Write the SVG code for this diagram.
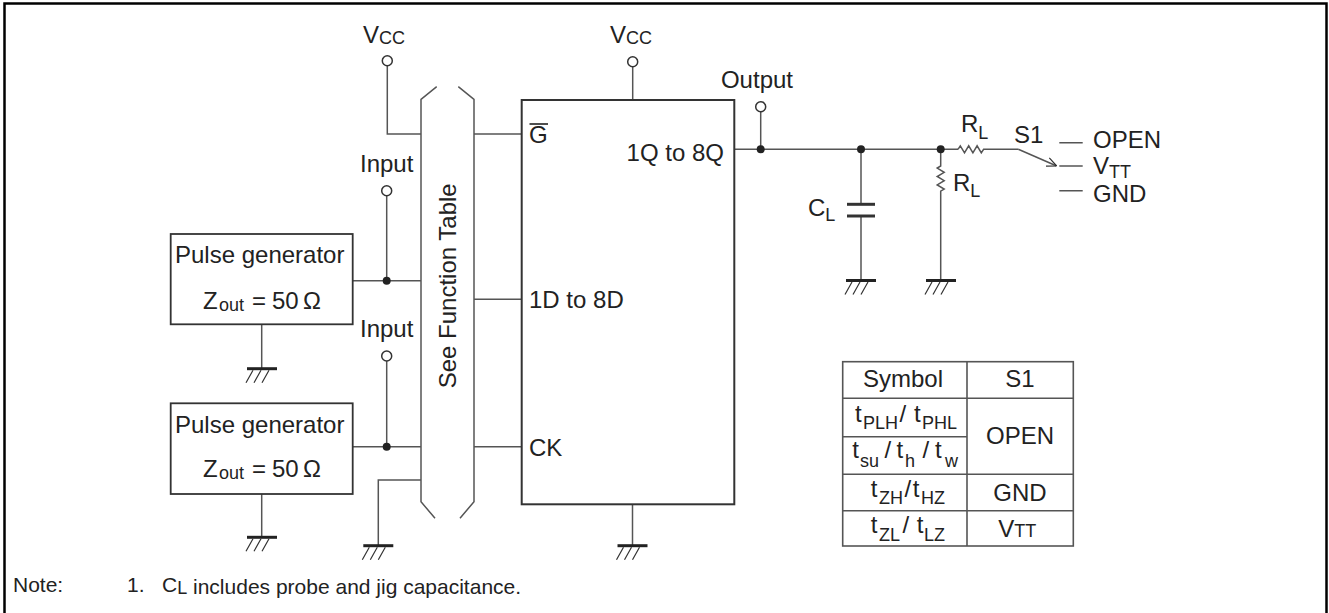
<svg xmlns="http://www.w3.org/2000/svg" xmlns:xlink="http://www.w3.org/1999/xlink" width="1329" height="613" viewBox="0 0 1329 613">
<style>
text{font-family:"Liberation Sans",Arial,sans-serif;font-size:24px;fill:#222}
.sub{font-size:18px}
.note{font-size:21px}
.w{stroke:#555;stroke-width:1.5;fill:none}
.t{stroke:#555;stroke-width:1.6;fill:none}
.dot{fill:#222}
.term{fill:#fff;stroke:#333;stroke-width:1.5}
</style>
<defs>
<g id="gnd">
<line x1="-15" y1="0" x2="15" y2="0" stroke="#222" stroke-width="3"/>
<path d="M-9,1.5 L-16,14 M-1,1.5 L-8,14 M7,1.5 L0,14" stroke="#333" stroke-width="1.2" fill="none"/>
</g>
<marker id="arr" viewBox="0 0 10 10" refX="10" refY="5" markerWidth="10" markerHeight="10" markerUnits="userSpaceOnUse" orient="auto">
<path d="M0,0.5 L10,5 L0,9.5" fill="none" stroke="#333" stroke-width="1.2"/>
</marker>
</defs>

<path id="frame" d="M4.5,613 V3.5 H1326.5 V613" fill="none" stroke="#000" stroke-width="2.5"/>

<g id="connectors">
<path class="w" d="M387.3,65.7 V134 H421"/>
<path class="w" d="M386.7,195.7 V280.7"/>
<path class="w" d="M352.7,280.7 H421"/>
<path class="w" d="M386.7,361 V446.7"/>
<path class="w" d="M352.7,446.7 H421"/>
<path class="w" d="M421,480 H378.3 V545.7"/>
<path class="w" d="M261.7,324.3 V368.7"/>
<path class="w" d="M261.7,494 V537.3"/>
<path class="w" d="M474,134 H521.7"/>
<path class="w" d="M474,299.3 H521.7"/>
<path class="w" d="M474,446.7 H521.7"/>
<path class="w" d="M632.7,66.7 V100"/>
<path class="w" d="M632.5,504.3 V545.7"/>
<path class="w" d="M734.3,149.3 H958"/>
<path class="w" d="M760.7,111.7 V149.3"/>
<path class="w" d="M861,149.3 V204.3 M861,216 V280.5"/>
<path class="w" d="M940.7,149.3 V166 l-3.5,2.1 l7,4.2 l-7,4.2 l7,4.2 l-7,4.2 l7,4.2 l-3.5,2.1 V280.5"/>
<path class="w" d="M958,149.3 l2.3,-3.5 l4.2,7 l4.2,-7 l4.2,7 l4.2,-7 l4.2,7 l2.3,-3.5 H1018.3"/>
<line class="w" x1="1018.3" y1="149.3" x2="1056.7" y2="166" marker-end="url(#arr)"/>
<circle class="dot" cx="386.7" cy="280.7" r="4"/>
<circle class="dot" cx="386.7" cy="446.7" r="4"/>
<circle class="dot" cx="760.7" cy="149.3" r="4"/>
<circle class="dot" cx="861" cy="149.3" r="4"/>
<circle class="dot" cx="940.7" cy="149.3" r="4"/>
</g>

<g id="bus">
<path class="w" d="M436.7,86.7 L421,99.3 V501.7 L435,518.3"/>
<path class="w" d="M458.3,86.7 L474,99.3 V501.7 L460,518.3"/>
<text transform="translate(456,285.8) rotate(-90)" text-anchor="middle">See Function Table</text>
</g>

<g id="vcc1">
<circle class="term" cx="387.3" cy="60.7" r="5"/>
<text x="363" y="43">V<tspan class="sub" y="44">CC</tspan></text>
</g>
<g id="vcc2">
<circle class="term" cx="632.7" cy="61.7" r="5"/>
<text x="610" y="43">V<tspan class="sub" y="44">CC</tspan></text>
</g>
<g id="input1">
<circle class="term" cx="386.7" cy="190.7" r="5"/>
<text x="360" y="172">Input</text>
</g>
<g id="input2">
<circle class="term" cx="386.7" cy="356" r="5"/>
<text x="360" y="337">Input</text>
</g>

<g id="pulse-gen-1">
<rect x="170.7" y="234" width="182" height="90.3" fill="#fff" stroke="#333" stroke-width="1.8"/>
<text x="175" y="263">Pulse generator</text>
<text y="309"><tspan x="203">Z</tspan><tspan class="sub" x="219" y="311">out</tspan><tspan x="252" y="309">=</tspan><tspan x="272">50</tspan><tspan x="303">Ω</tspan></text>
</g>
<g id="pulse-gen-2">
<rect x="170.7" y="403.3" width="182" height="90.7" fill="#fff" stroke="#333" stroke-width="1.8"/>
<text x="175" y="432.7">Pulse generator</text>
<text y="476.7"><tspan x="203">Z</tspan><tspan class="sub" x="219" y="478.7">out</tspan><tspan x="252" y="476.7">=</tspan><tspan x="272">50</tspan><tspan x="303">Ω</tspan></text>
</g>

<g id="chip">
<rect x="521.7" y="100" width="212.6" height="404.3" fill="none" stroke="#333" stroke-width="2"/>
<text x="529" y="143">G</text>
<line x1="529.5" y1="124" x2="548" y2="124" stroke="#222" stroke-width="1.6"/>
<text x="724" y="161" text-anchor="end">1Q to 8Q</text>
<text x="529" y="308">1D to 8D</text>
<text x="529" y="456">CK</text>
</g>

<g id="output">
<circle class="term" cx="760.7" cy="106.7" r="5"/>
<text x="793" y="88" text-anchor="end">Output</text>
</g>

<g id="CL">
<line x1="847" y1="204.3" x2="875" y2="204.3" stroke="#333" stroke-width="3"/>
<line x1="847" y1="216" x2="875" y2="216" stroke="#333" stroke-width="3"/>
<text x="808" y="216">C<tspan class="sub" y="221">L</tspan></text>
</g>

<g id="RL-series">
<text x="961" y="132">R<tspan class="sub" y="138.5">L</tspan></text>
</g>
<g id="RL-shunt">
<text x="953" y="191">R<tspan class="sub" y="197">L</tspan></text>
</g>

<g id="S1">
<text x="1014" y="143">S1</text>
<path class="w" d="M1059.3,142.7 H1082.7 M1059.3,166 H1082.7 M1059.3,190.7 H1082.7"/>
<text x="1093" y="148">OPEN</text>
<text x="1093" y="174">V<tspan class="sub" font-size="17" y="177.5">TT</tspan></text>
<text x="1093" y="201.5">GND</text>
</g>

<g id="grounds">
<use xlink:href="#gnd" x="262" y="368.7"/>
<use xlink:href="#gnd" x="262" y="537.3"/>
<use xlink:href="#gnd" x="378.3" y="545.7"/>
<use xlink:href="#gnd" x="632.5" y="545.7"/>
<use xlink:href="#gnd" x="861" y="280.5"/>
<use xlink:href="#gnd" x="941" y="280.5"/>
</g>

<g id="table">
<rect class="t" x="842.7" y="361.7" width="230.6" height="184.3"/>
<path class="t" d="M967,361.7 V546 M842.7,398.3 H1073.3 M842.7,436.7 H967 M842.7,474.3 H1073.3 M842.7,510.7 H1073.3"/>
<text x="903" y="387" text-anchor="middle">Symbol</text>
<text x="1020" y="387" text-anchor="middle">S1</text>
<text y="421.7"><tspan x="855">t</tspan><tspan class="sub" x="863" y="429">PLH</tspan><tspan x="899.5" y="421.7">/</tspan><tspan x="914">t</tspan><tspan class="sub" x="922" y="429">PHL</tspan></text>
<text y="458.3"><tspan x="852.3">t</tspan><tspan class="sub" x="860" y="466.5">su</tspan><tspan x="884.5" y="458.3">/</tspan><tspan x="896.5">t</tspan><tspan class="sub" x="905" y="466.5">h</tspan><tspan x="922.5" y="458.3">/</tspan><tspan x="935">t</tspan><tspan class="sub" x="945" y="466.5">w</tspan></text>
<text y="496.7"><tspan x="870.7">t</tspan><tspan class="sub" x="879" y="504">ZH</tspan><tspan x="904.5" y="496.7">/</tspan><tspan x="912.7">t</tspan><tspan class="sub" x="921" y="504">HZ</tspan></text>
<text y="533.3"><tspan x="870.7">t</tspan><tspan class="sub" x="879" y="541">ZL</tspan><tspan x="902.5" y="533.3">/</tspan><tspan x="916.7">t</tspan><tspan class="sub" x="924" y="541">LZ</tspan></text>
<text x="1020" y="444" text-anchor="middle">OPEN</text>
<text x="1020" y="500.7" text-anchor="middle">GND</text>
<text x="998.3" y="537.3">V<tspan class="sub">TT</tspan></text>
</g>

<g id="note">
<text class="note" x="13" y="592">Note:</text>
<text class="note" x="127" y="592">1.</text>
<text class="note" x="162" y="592">C<tspan class="sub" font-size="14" y="594">L</tspan> includes probe and jig capacitance.</text>
</g>
</svg>
